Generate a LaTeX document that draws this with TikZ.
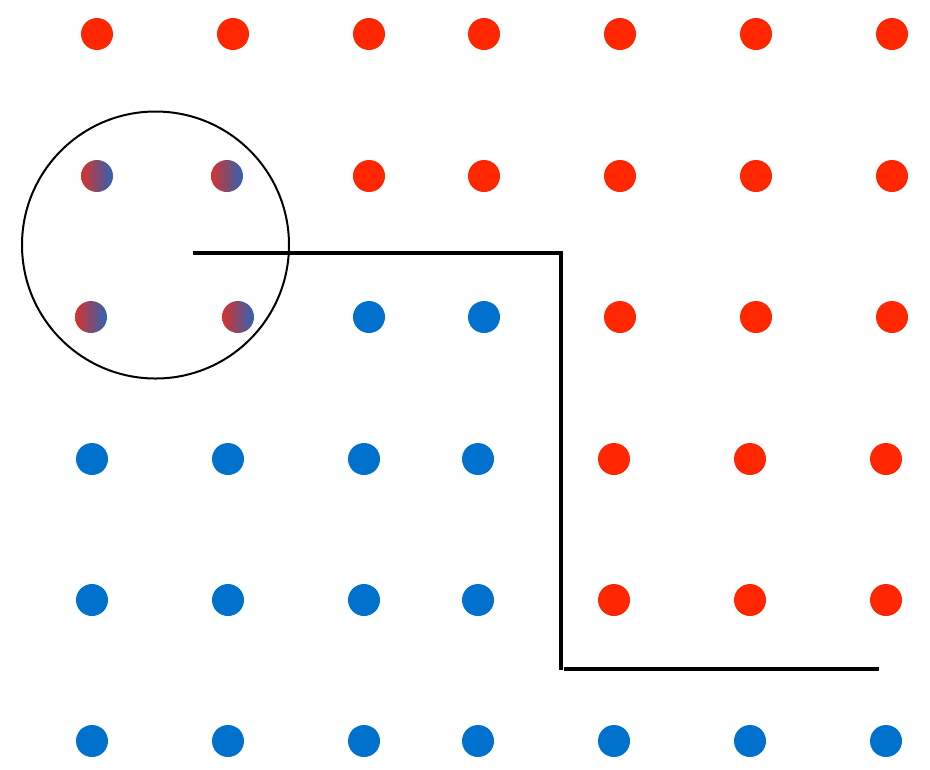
\documentclass[tikz,border=0pt]{standalone}
\definecolor{dotred}{RGB}{255,38,0}
\definecolor{dotblue}{RGB}{0,114,206}
\definecolor{gradred}{RGB}{215,50,45}
\definecolor{gradblue}{RGB}{45,100,180}
\tikzset{
  dot/.style={circle, inner sep=0pt, minimum size=24pt},
  reddot/.style={dot, fill=dotred},
  bluedot/.style={dot, fill=dotblue},
  mixdot/.style={dot, left color=gradred, right color=gradblue, shading angle=90},
  wall/.style={line width=3pt},
  ring/.style={line width=1.5pt}
}
\begin{document}
\begin{tikzpicture}[x=0.75pt, y=-0.75pt]
\useasboundingbox (0,0) rectangle (930,769);
% row 1
\foreach \x [count=\i] in {97,233,369,484,620,756,892}
  \node[reddot] (a\i) at (\x,34) {};
% row 2
\node[mixdot] (b1) at (97,176) {};
\node[mixdot] (b2) at (227,176) {};
\foreach \x [count=\i from 3] in {369,484,620,756,892}
  \node[reddot] (b\i) at (\x,176) {};
% row 3
\node[mixdot] (c1) at (91,317) {};
\node[mixdot] (c2) at (238,317) {};
\node[bluedot] (c3) at (369,317) {};
\node[bluedot] (c4) at (484,317) {};
\foreach \x [count=\i from 5] in {620,756,892}
  \node[reddot] (c\i) at (\x,317) {};
% row 4 and 5
\foreach \r/\y in {d/459,e/600}{
  \foreach \x [count=\i] in {92,228,364,478}
    \node[bluedot] (\r\i) at (\x,\y) {};
  \foreach \x [count=\i from 5] in {614,750,886}
    \node[reddot] (\r\i) at (\x,\y) {};
}
% row 6
\foreach \x [count=\i] in {92,228,364,478,614,750,886}
  \node[bluedot] (f\i) at (\x,741) {};
% circle
\node[ring, draw, circle, minimum size=267pt*0.75, inner sep=0pt] (ring) at (155.5,245) {};
% walls
\coordinate (w1) at (193,253);
\coordinate (w2) at (560.5,253);
\coordinate (w3) at (560.5,670);
\coordinate (w4) at (564,669);
\coordinate (w5) at (879,669);
\draw[wall] (w1) -- (w2) -- (w3);
\draw[wall] (w4) -- (w5);
\end{tikzpicture}
\end{document}
